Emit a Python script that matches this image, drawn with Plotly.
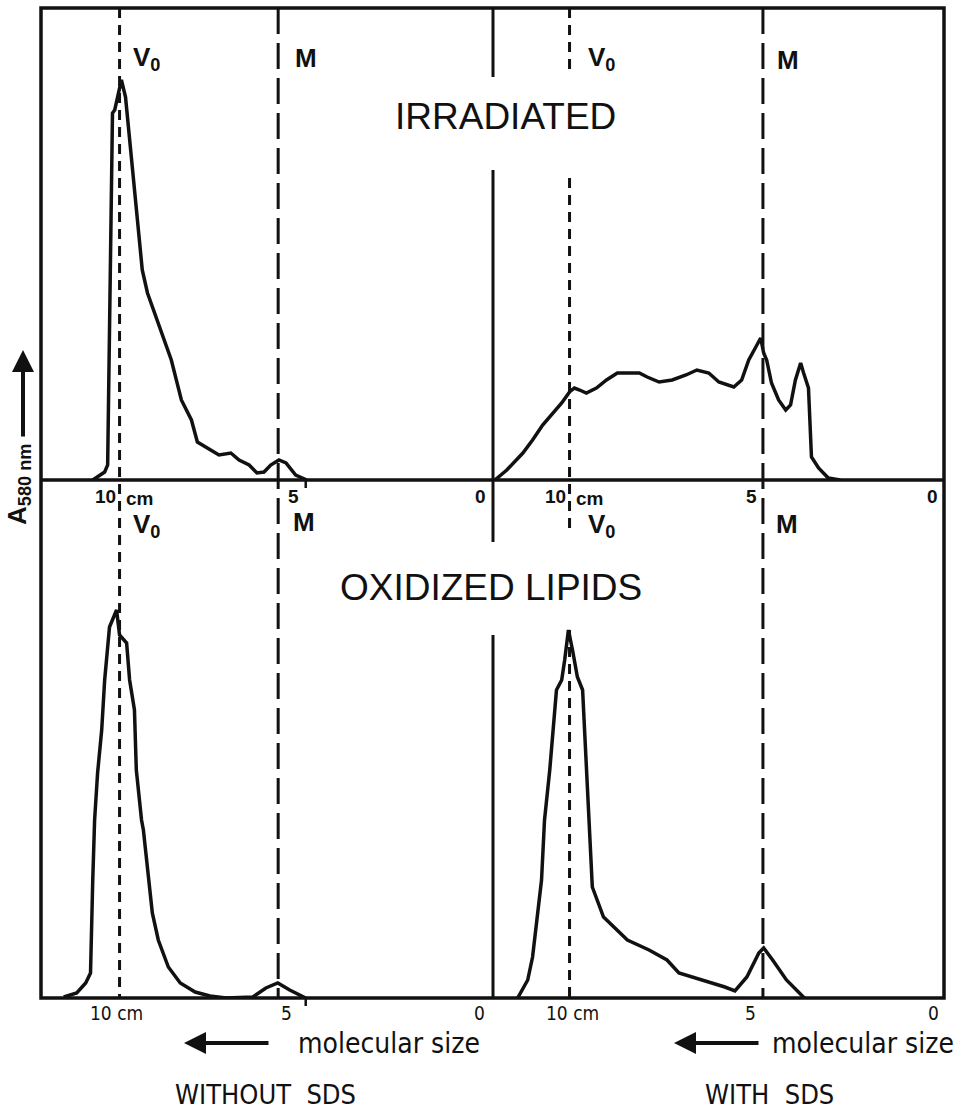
import plotly.graph_objects as go

# ---------------- data (elution distance in cm, absorbance in arbitrary units) ----------------
tl_x = [10.72, 10.40, 10.32, 10.19, 10.13, 10.05, 9.95, 9.84, 9.65, 9.39, 9.25, 8.93, 8.61, 8.34,
        8.07, 7.91, 7.65, 7.33, 7.01, 6.79, 6.52, 6.31, 6.12, 5.94, 5.72, 5.53, 5.27, 4.97]
tl_y = [0, 0.8, 1.5, 36.7, 37.0, 38.3, 40.0, 38.3, 31.3, 21.0, 18.7, 15.3, 12.0, 8.0,
        6.0, 3.8, 3.2, 2.5, 2.7, 2.0, 1.5, 0.7, 0.8, 1.5, 2.0, 1.7, 0.5, 0]

tr_x = [12.0, 11.68, 11.25, 10.99, 10.72, 10.48, 10.21, 10.0, 9.87, 9.73, 9.55, 9.28, 9.01, 8.72,
        8.13, 7.92, 7.6, 7.25, 6.88, 6.59, 6.27, 6.0, 5.6, 5.39, 5.2, 5.01, 4.88, 4.8, 4.72, 4.59,
        4.4, 4.21, 4.08, 3.95, 3.81, 3.73, 3.6, 3.52, 3.33, 3.07, 2.75]
tr_y = [0, 1.0, 2.7, 4.0, 5.5, 6.5, 7.7, 8.8, 9.2, 9.0, 8.7, 9.2, 10.0, 10.7,
        10.7, 10.3, 9.8, 10.0, 10.5, 11.0, 10.7, 9.8, 9.3, 10.0, 12.0, 13.3, 14.2, 12.7, 12.0, 9.7,
        8.0, 7.0, 7.5, 10.0, 11.7, 10.7, 9.2, 2.3, 1.2, 0.2, 0]

bl_x = [11.50, 11.15, 10.91, 10.78, 10.72, 10.67, 10.59, 10.48, 10.40, 10.35, 10.27, 10.08, 10.0,
        9.81, 9.73, 9.60, 9.55, 9.41, 9.36, 9.12, 8.96, 8.69, 8.37, 7.97, 7.57, 7.14, 6.42, 6.07,
        5.75, 5.43, 5.0]
bl_y = [0.1, 0.5, 1.5, 2.5, 11.8, 17.8, 22.5, 26.8, 31.8, 34.1, 37.1, 38.8, 36.3,
        35.5, 31.8, 28.8, 22.8, 17.8, 16.8, 8.5, 5.8, 3.1, 1.5, 0.6, 0.2, 0.0, 0.1, 1.0,
        1.5, 0.8, 0.0]

br_x = [11.39, 11.12, 10.99, 10.75, 10.67, 10.53, 10.35, 10.21, 10.13, 10.03, 9.92, 9.79, 9.65,
        9.55, 9.47, 9.39, 9.09, 8.45, 7.87, 7.39, 7.07, 6.72, 6.24, 5.84, 5.57, 5.25, 4.93, 4.80,
        4.56, 4.19, 3.71]
br_y = [0, 1.8, 4.1, 11.8, 17.8, 22.8, 30.8, 31.8, 33.8, 36.8, 34.8, 32.1, 30.8,
        22.8, 17.8, 11.1, 8.1, 5.8, 4.8, 3.8, 2.5, 2.1, 1.6, 1.1, 0.7, 2.1, 4.5, 5.0,
        3.8, 1.8, 0]

v0_pos = 10.0          # void volume marker (cm)
m_pos_left = 5.74      # marker M without SDS (cm)
m_pos_right = 4.82     # marker M with SDS (cm)
tick_vals = [10, 5, 0]
tick_text = ["10", "5", "0"]

# ---------------- geometry helpers ----------------
W, H = 959, 1113


def px(x):
    return x / W


def py(y):
    return 1 - y / H


X_L0, X_MID, X_R1 = 41, 493, 944
Y_TOP, Y_MID, Y_BOT = 8, 480, 998
BLACK = "#111111"

fig = go.Figure()
line_style = dict(color=BLACK, width=3.5)
fig.add_trace(go.Scatter(x=tl_x, y=tl_y, xaxis="x", yaxis="y", mode="lines", line=line_style))
fig.add_trace(go.Scatter(x=tr_x, y=tr_y, xaxis="x2", yaxis="y", mode="lines", line=line_style))
fig.add_trace(go.Scatter(x=bl_x, y=bl_y, xaxis="x", yaxis="y2", mode="lines", line=line_style))
fig.add_trace(go.Scatter(x=br_x, y=br_y, xaxis="x2", yaxis="y2", mode="lines", line=line_style))

hidden = dict(showline=False, showgrid=False, zeroline=False, showticklabels=False, ticks="")
fig.update_layout(
    width=W, height=H, margin=dict(l=0, r=0, t=0, b=0),
    paper_bgcolor="white", plot_bgcolor="rgba(0,0,0,0)", showlegend=False,
    xaxis=dict(domain=[px(X_L0), px(X_MID)], range=[12.11, -0.03], anchor="y", **hidden),
    xaxis2=dict(domain=[px(X_MID), px(X_R1)], range=[12.05, -0.03], anchor="y", **hidden),
    yaxis=dict(domain=[py(Y_MID), py(Y_TOP)], range=[0, 47.2], anchor="x", **hidden),
    yaxis2=dict(domain=[py(Y_BOT), py(Y_MID)], range=[0, 51.8], anchor="x", **hidden),
)

shapes = []
# frame
shapes.append(dict(type="rect", xref="paper", yref="paper", x0=px(X_L0), x1=px(X_R1),
                   y0=py(Y_BOT), y1=py(Y_TOP), line=dict(color=BLACK, width=3.5)))
shapes.append(dict(type="line", xref="paper", yref="paper", x0=px(X_L0), x1=px(X_R1),
                   y0=py(Y_MID), y1=py(Y_MID), line=dict(color=BLACK, width=3.5)))
# divider with gaps for titles
for a, b in [(Y_TOP, 77), (170, Y_MID), (Y_MID, 542), (635, Y_BOT)]:
    shapes.append(dict(type="line", xref="paper", yref="paper", x0=px(X_MID), x1=px(X_MID),
                       y0=py(a), y1=py(b), line=dict(color=BLACK, width=3)))
# V0 and M marker lines
short_dash = "10px,7px"
long_dash = "26px,9px"
shapes.append(dict(type="line", xref="x", yref="paper", x0=v0_pos, x1=v0_pos,
                   y0=py(Y_TOP), y1=py(Y_BOT), line=dict(color=BLACK, width=3, dash=short_dash)))
shapes.append(dict(type="line", xref="x", yref="paper", x0=m_pos_left, x1=m_pos_left,
                   y0=py(Y_TOP), y1=py(Y_BOT), line=dict(color=BLACK, width=3, dash=long_dash)))
for a, b in [(Y_TOP, 70), (178, 535), (630, Y_BOT)]:
    shapes.append(dict(type="line", xref="x2", yref="paper", x0=v0_pos, x1=v0_pos,
                       y0=py(a), y1=py(b), line=dict(color=BLACK, width=3, dash=short_dash)))
shapes.append(dict(type="line", xref="x2", yref="paper", x0=m_pos_right, x1=m_pos_right,
                   y0=py(Y_TOP), y1=py(Y_BOT), line=dict(color=BLACK, width=3, dash=long_dash)))
# small ticks at 5 cm on the left half
for yb in (Y_MID, Y_BOT):
    shapes.append(dict(type="line", xref="x", yref="paper", x0=5, x1=5,
                       y0=py(yb), y1=py(yb + 8), line=dict(color=BLACK, width=2.5)))
fig.update_layout(shapes=shapes)

ann = []
BOLD = "Liberation Sans"
COND = "DejaVu Sans Condensed, Liberation Sans Narrow, Roboto Condensed, Liberation Sans"


def text(x, y, s, size, family=BOLD, weight="normal", xanchor="center", yanchor="middle",
         xref="paper", angle=0, xshift=0):
    ann.append(dict(x=x, y=y, xref=xref, yref="paper", text=s, showarrow=False,
                    xanchor=xanchor, yanchor=yanchor, textangle=angle, xshift=xshift,
                    borderpad=0,
                    font=dict(family=family, size=size, color=BLACK, weight=weight)))


# titles
text(px(505), py(116), "IRRADIATED", 37)
text(px(491), py(587), "OXIDIZED LIPIDS", 37)
# V0 / M labels
for xv, yv in [(132, 58), (587, 58), (132, 525), (587, 525)]:
    text(px(xv), py(yv), "V<sub>0</sub>", 26, weight="bold", xanchor="left")
for xm, ym in [(294, 58), (776, 60), (292, 522), (775, 524)]:
    text(px(xm), py(ym), "M", 26, weight="bold", xanchor="left")

# top axis tick labels (bold)
top_shift = {("x", 10): -3, ("x", 5): -12, ("x", 0): -11,
             ("x2", 10): -3, ("x2", 5): -5, ("x2", 0): -10}
for ax in ("x", "x2"):
    for v, t in zip(tick_vals, tick_text):
        if v == 10:
            text(v, py(496), t, 19, weight="bold", xanchor="right", xref=ax, xshift=top_shift[(ax, v)])
            text(v, py(499), "cm", 19, weight="bold", xanchor="left", xref=ax, xshift=5)
        else:
            text(v, py(496), t, 19, weight="bold", xanchor="center", xref=ax, xshift=top_shift[(ax, v)])

# bottom axis tick labels (condensed)
bot_shift = {("x", 10): -3, ("x", 5): -19, ("x", 0): -12,
             ("x2", 10): 3, ("x2", 5): -6, ("x2", 0): -9}
for ax in ("x", "x2"):
    for v, t in zip(tick_vals, tick_text):
        s = t + " cm" if v == 10 else t
        text(v, py(1013), s, 19, family=COND, xref=ax, xshift=bot_shift[(ax, v)])

# molecular size captions
text(px(297), py(1043), "molecular size", 28, family=COND, xanchor="left")
text(px(771), py(1043), "molecular size", 28, family=COND, xanchor="left")
text(px(265), py(1094), "WITHOUT&nbsp;&nbsp;SDS", 27, family=COND)
text(px(769), py(1094), "WITH&nbsp;&nbsp;SDS", 27, family=COND)

# y label
ann.append(dict(x=px(19), y=py(485), xref="paper", yref="paper", text="A<sub>580 nm</sub>",
                showarrow=False, textangle=-90, xanchor="center", yanchor="middle",
                font=dict(family=BOLD, size=26, color=BLACK, weight="bold")))

# arrows
arrow = dict(text="", showarrow=True, arrowhead=2, arrowsize=1.1, arrowwidth=4,
             arrowcolor=BLACK, xref="paper", yref="paper")
ann.append(dict(x=px(23), y=py(350), ax=0, ay=88, **arrow))
ann.append(dict(x=px(184), y=py(1043), ax=86, ay=0, **arrow))
ann.append(dict(x=px(674), y=py(1043), ax=86, ay=0, **arrow))

fig.update_layout(annotations=ann)
fig.write_html("out.html")
